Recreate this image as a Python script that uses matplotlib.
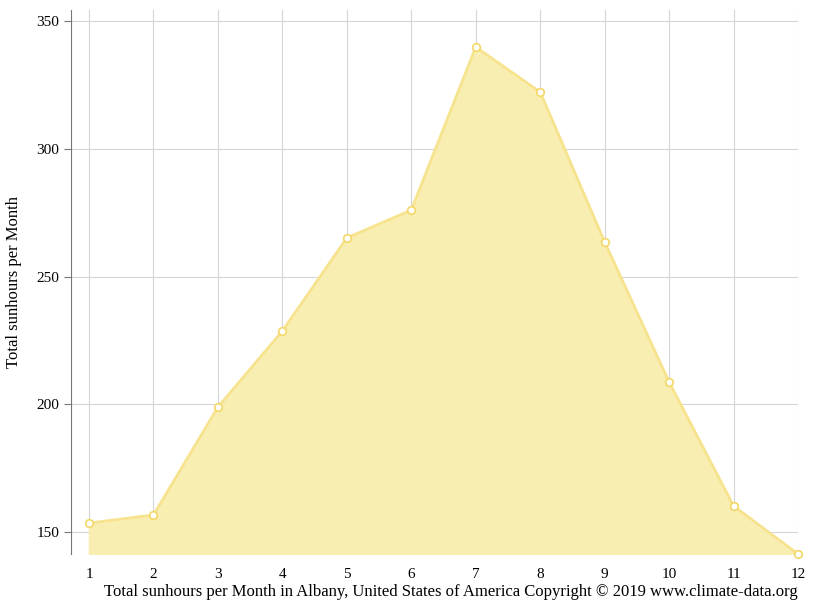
import matplotlib.pyplot as plt

months = list(range(1, 13))
sunhours = [153.5, 156.7, 198.9, 228.7, 265.1, 276.0, 339.8, 322.2, 263.5, 208.7, 160.2, 141.4]
yticks = [150, 200, 250, 300, 350]

plt.rcParams["font.family"] = ["Liberation Serif", "DejaVu Serif"]

fig = plt.figure(figsize=(8.15, 6.11), dpi=100)
ax = fig.add_axes([71 / 815, 1 - 554 / 611, (798 - 71) / 815, (554 - 10) / 611])

ax.fill_between(months, sunhours, 141.4, color="#f9eeb1", zorder=1)
ax.plot(months, sunhours, color="#f7e38e", lw=2, zorder=2)
ax.scatter(months, sunhours, s=30, facecolor="white", edgecolor="#f3d868", lw=1.2, zorder=3, clip_on=False)

ax.set_xlim(0.72, 12)
ax.set_ylim(141.4, 354.3)
ax.set_xticks(months)
ax.set_yticks(yticks)
ax.grid(True, color="#d5d5d5", lw=0.8, zorder=0)
ax.set_axisbelow(True)
for s in ["top", "right", "bottom"]:
    ax.spines[s].set_visible(False)
ax.spines["left"].set_color("#777777")
ax.tick_params(axis="x", length=0, labelsize=11, pad=10)
ax.tick_params(axis="y", length=5, color="#777777", labelsize=11)

ax.set_ylabel("Total sunhours per Month", fontsize=12, labelpad=10)
fig.text(798 / 815, 1 - 592 / 611,
         "Total sunhours per Month in Albany, United States of America Copyright © 2019 www.climate-data.org",
         ha="right", va="center", fontsize=12)

fig.savefig("out.png", dpi=100)
